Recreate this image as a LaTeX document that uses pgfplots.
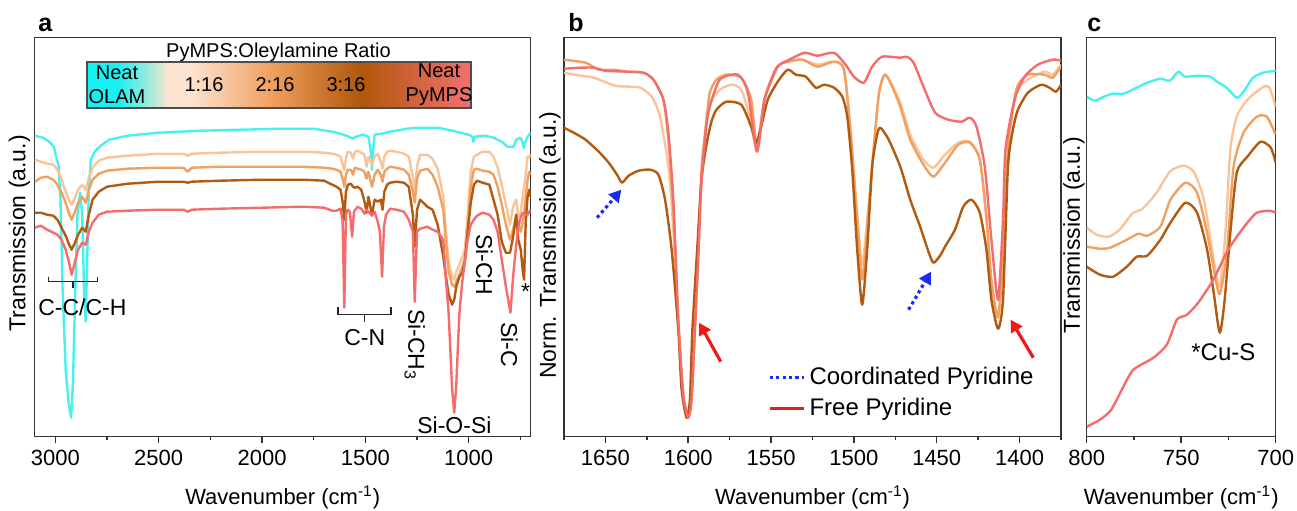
\documentclass[border=0pt]{standalone}
\usepackage{fontspec}
\setmainfont{Liberation Sans}
\usepackage{pgfplots}
\pgfplotsset{compat=1.18}
\usetikzlibrary{arrows.meta}

\definecolor{cOL}{RGB}{72,240,240}
\definecolor{cLP}{RGB}{250,196,152}
\definecolor{cO}{RGB}{240,160,96}
\definecolor{cB}{RGB}{178,90,16}
\definecolor{cR}{RGB}{244,108,108}
\definecolor{cbC}{RGB}{20,242,242}
\definecolor{cbP}{RGB}{252,228,208}
\definecolor{cbO}{RGB}{240,160,96}
\definecolor{cbB}{RGB}{176,87,10}
\definecolor{cbR}{RGB}{242,112,112}
\definecolor{cBlue}{RGB}{25,45,240}
\definecolor{cRed}{RGB}{240,25,25}

\tikzset{ann/.style={font=\fontsize{11.5}{13}\selectfont, inner sep=0pt}}
\pgfplotsset{
  panel/.style={
    scale only axis, anchor=south west, height=199.5pt, ymin=0, ymax=399,
    ytick=\empty, x dir=reverse,
    axis line style={line width=0.75pt, draw=black!80},
    tick align=outside, xtick pos=bottom, major tick length=3.3pt, minor tick length=1.7pt,
    tick style={line width=0.75pt, black!80},
    tick label style={font=\fontsize{11}{13}\selectfont},
    /pgf/number format/assume math mode=true, /pgf/number format/1000 sep={},
    xlabel={Wavenumber (cm\textsuperscript{-1})},
    every axis x label/.style={at={(axis description cs:0.5,0)}, anchor=base, yshift=-33.7pt, font=\fontsize{11}{13}\selectfont},
    clip mode=individual,
    every axis plot/.append style={line width=1.2pt, line join=round},
  },
}

\begin{document}
\begin{tikzpicture}
\path[use as bounding box] (0pt,0pt) rectangle (648.5pt,255pt);

% ---------------- panel a ----------------
\begin{axis}[panel, at={(17.35pt,36.65pt)}, width=248pt,
  xmin=700, xmax=3100, xtick={1000,1500,2000,2500,3000}, minor xtick={750,1250,1750,2250,2750},
  ylabel={Transmission (a.u.)},
  every axis y label/.style={at={(axis description cs:-0.0085,0.51)}, rotate=90, anchor=south, inner sep=0pt, font=\fontsize{11.5}{13}\selectfont}]
\addplot[cOL] coordinates {(3100,301)(3060,299)(3030,295)(3007,290)(2995,279)(2985,272)(2975,237)(2965,147)(2950,67)(2935,32)(2924,19)(2915,52)(2905,137)(2893,222)(2880,244)(2870,222)(2860,137)(2853,115)(2846,177)(2838,247)(2828,277)(2810,285)(2780,291)(2740,297)(2650,301)(2500,304)(2300,306)(2100,307)(1900,308)(1750,308)(1660,305)(1620,303)(1580,300)(1562,298)(1545,300)(1510,302)(1485,300)(1475,287)(1468,267)(1462,287)(1455,302)(1420,303)(1380,305)(1350,306)(1300,308)(1250,309)(1150,309)(1080,306)(1000,302)(982,300)(977,295)(970,300)(920,301)(880,299)(840,295)(812,290)(795,290)(783,290)(770,297)(750,299)(740,295)(733,289)(725,295)(715,300)(700,304)};
\addplot[cLP] coordinates {(3100,277)(3070,275)(3040,273)(3010,272)(2990,267)(2970,257)(2950,245)(2935,237)(2921,232)(2905,239)(2890,247)(2870,252)(2853,247)(2838,259)(2820,269)(2790,276)(2750,279)(2650,281)(2500,283)(2380,283)(2360,281)(2340,283)(2200,284)(2000,285)(1800,285)(1700,284)(1660,283)(1640,282)(1620,280)(1610,272)(1602,267)(1594,278)(1585,285)(1570,284)(1560,278)(1550,285)(1538,286)(1520,284)(1505,282)(1494,270)(1485,280)(1468,272)(1455,280)(1440,283)(1425,275)(1417,268)(1408,280)(1395,285)(1380,286)(1350,285)(1313,283)(1290,280)(1270,260)(1261,244)(1250,270)(1235,282)(1200,282)(1175,278)(1150,268)(1123,240)(1110,205)(1097,175)(1080,160)(1070,157)(1060,165)(1045,172)(1030,180)(1019,187)(1005,222)(990,265)(975,280)(960,282)(933,285)(900,285)(880,280)(860,269)(840,252)(820,232)(800,212)(785,230)(770,237)(760,220)(748,225)(738,240)(732,250)(724,262)(715,280)(707,279)(700,283)};
\addplot[cO] coordinates {(3100,255)(3070,259)(3040,260)(3010,257)(2990,252)(2970,244)(2950,234)(2935,224)(2921,217)(2905,225)(2890,234)(2870,240)(2853,234)(2838,247)(2820,257)(2790,263)(2750,266)(2650,268)(2500,269)(2380,269)(2360,265)(2340,269)(2200,270)(2000,270)(1800,270)(1700,269)(1660,268)(1640,267)(1620,265)(1610,258)(1602,250)(1594,262)(1585,267)(1570,267)(1560,262)(1550,269)(1538,268)(1520,267)(1505,265)(1494,258)(1485,265)(1468,250)(1455,262)(1440,267)(1425,262)(1417,255)(1408,265)(1395,268)(1380,270)(1350,269)(1313,267)(1290,262)(1270,245)(1261,234)(1250,258)(1235,266)(1200,268)(1175,262)(1150,250)(1123,227)(1110,195)(1097,165)(1080,152)(1070,150)(1060,155)(1045,162)(1030,170)(1019,177)(1005,207)(990,250)(975,267)(960,268)(933,266)(900,265)(880,262)(860,250)(840,232)(820,212)(800,197)(785,207)(770,222)(760,212)(748,205)(738,215)(732,222)(724,240)(715,257)(707,265)(700,262)};
\addplot[cB] coordinates {(3100,224)(3070,224)(3040,222)(3010,221)(2990,217)(2970,209)(2950,201)(2935,193)(2921,187)(2905,194)(2890,202)(2870,209)(2853,205)(2838,222)(2820,237)(2790,245)(2750,250)(2650,253)(2500,255)(2380,255)(2360,254)(2340,255)(2200,256)(2000,257)(1800,257)(1700,256)(1660,252)(1640,250)(1620,247)(1610,235)(1602,217)(1594,245)(1585,252)(1570,253)(1560,250)(1550,249)(1538,250)(1520,247)(1505,236)(1494,224)(1485,240)(1468,222)(1455,237)(1440,235)(1425,237)(1417,227)(1408,245)(1395,252)(1380,254)(1350,255)(1313,254)(1290,250)(1270,222)(1261,190)(1250,227)(1235,237)(1200,230)(1175,227)(1150,212)(1123,180)(1110,160)(1097,142)(1080,132)(1070,137)(1060,150)(1045,160)(1030,164)(1019,175)(1005,205)(990,234)(975,252)(960,256)(933,254)(900,252)(880,237)(860,222)(840,195)(820,184)(800,184)(785,200)(770,222)(760,197)(748,187)(738,165)(732,157)(724,215)(715,240)(707,247)(700,240)};
\addplot[cR] coordinates {(3100,209)(3070,211)(3040,207)(3010,204)(2990,202)(2970,197)(2950,187)(2935,175)(2921,162)(2905,175)(2890,187)(2870,194)(2853,192)(2838,205)(2820,214)(2790,222)(2750,225)(2650,226)(2500,227)(2380,227)(2360,225)(2340,227)(2200,228)(2000,229)(1800,230)(1700,229)(1660,226)(1640,226)(1620,228)(1610,215)(1602,129)(1594,222)(1585,227)(1575,225)(1564,200)(1555,225)(1538,230)(1520,228)(1505,223)(1494,227)(1485,225)(1468,221)(1455,225)(1440,215)(1430,205)(1419,160)(1410,210)(1400,222)(1380,228)(1350,227)(1313,225)(1290,217)(1270,205)(1261,135)(1250,205)(1235,208)(1200,210)(1175,207)(1150,205)(1123,197)(1110,157)(1097,124)(1080,47)(1070,24)(1060,52)(1045,124)(1030,157)(1019,174)(1005,197)(990,212)(975,217)(960,221)(933,224)(900,222)(880,217)(860,205)(840,177)(820,150)(798,124)(785,160)(770,192)(760,210)(748,220)(738,224)(732,223)(724,222)(715,222)(707,225)(700,227)};
\draw[line width=0.75pt, black!85] (axis cs:3034,160) -- (axis cs:3034,155) -- (axis cs:2797,155) -- (axis cs:2797,160);
\draw[line width=0.75pt, black!85] (axis cs:2915,155) -- (axis cs:2915,149);
\node[ann] at (axis cs:2869,129) {C-C/C-H};
\draw[line width=0.75pt, black!85] (axis cs:1633,130) -- (axis cs:1633,122) -- (axis cs:1377,122) -- (axis cs:1377,130);
\draw[line width=0.75pt, black!85] (axis cs:1503,122) -- (axis cs:1503,115);
\node[ann] at (axis cs:1503,99) {C-N};
\node[ann, rotate=-90] at (axis cs:1261,92) {Si-CH\textsubscript{3}};
\node[ann, rotate=-90] at (axis cs:924,172) {Si-CH};
\node[ann, rotate=-90] at (axis cs:803,92) {Si-C};
\node[ann] at (axis cs:1069,11) {Si-O-Si};
\node[ann] at (axis cs:725,145) {*};
\end{axis}

% colour bar (legend of panel a)
\fill[cbC] (43.5pt,201pt) rectangle (59pt,224pt);
\shade[left color=cbC, right color=cbP] (58.8pt,201pt) rectangle (84.2pt,224pt);
\fill[cbP] (84pt,201pt) rectangle (95.2pt,224pt);
\shade[left color=cbP, right color=cbO] (95pt,201pt) rectangle (135.7pt,224pt);
\shade[left color=cbO, right color=cbB] (135.5pt,201pt) rectangle (180.7pt,224pt);
\shade[left color=cbB, right color=cbR] (180.5pt,201pt) rectangle (235.5pt,224pt);
\draw[black!70, line width=0.6pt] (43.5pt,201pt) rectangle (235.5pt,224pt);
\node[anchor=base, inner sep=0pt, font=\fontsize{10}{12}\selectfont] at (139.25pt,226pt) {PyMPS:Oleylamine Ratio};
\node[align=center, inner sep=0pt, font=\fontsize{10}{12}\selectfont] at (58.5pt,212.5pt) {Neat\\OLAM};
\node[inner sep=0pt, font=\fontsize{10}{12}\selectfont] at (102pt,212.5pt) {1:16};
\node[inner sep=0pt, font=\fontsize{10}{12}\selectfont] at (137.5pt,212.5pt) {2:16};
\node[inner sep=0pt, font=\fontsize{10}{12}\selectfont] at (173pt,212.5pt) {3:16};
\node[align=center, inner sep=0pt, font=\fontsize{10}{12}\selectfont] at (219.5pt,212.5pt) {Neat\\PyMPS};

% ---------------- panel b ----------------
\begin{axis}[panel, at={(282pt,36.65pt)}, width=248.5pt,
  xmin=1375, xmax=1675, xtick={1400,1450,...,1650}, minor xtick={1375,1425,...,1675},
  ylabel={Norm. Transmission (a.u.)},
  every axis y label/.style={at={(axis description cs:-0.006,0.48)}, rotate=90, anchor=south, inner sep=0pt, font=\fontsize{11.5}{13}\selectfont},
  legend style={at={(axis description cs:0.41,0.035)}, anchor=south west, draw=none, fill=none, font=\fontsize{12}{14}\selectfont, row sep=1pt, inner sep=0pt},
  legend cell align=left]
\addlegendimage{cBlue, line width=1.6pt, dash pattern=on 1.6pt off 1.6pt}
\addlegendentry{Coordinated Pyridine}
\addlegendimage{cRed, line width=1.6pt}
\addlegendentry{Free Pyridine}
\addplot[cLP, smooth, tension=0.4, forget plot] coordinates {(1675,364)(1665,361)(1657,359)(1644,351)(1635,350)(1629,349)(1622,340)(1617,320)(1612,270)(1609,207)(1606,107)(1603,39)(1600,25)(1598,39)(1596,107)(1594,177)(1592,257)(1589,312)(1587,334)(1581,347)(1574,352)(1568,347)(1563,320)(1558.5,287)(1554,337)(1546,370)(1540,375)(1531,377)(1522,372)(1512,375)(1506,367)(1502,307)(1498,222)(1495,172)(1492,217)(1489,270)(1485,342)(1481.5,362)(1478,355)(1472,334)(1466,302)(1458,277)(1452,269)(1445,282)(1437,294)(1430,295)(1424,277)(1420,217)(1417,152)(1413,122)(1410,182)(1407,287)(1402,344)(1395,357)(1385,365)(1380,362)(1375,372)};
\addplot[cO, smooth, tension=0.4, forget plot] coordinates {(1675,377)(1662,374)(1654,367)(1645,367)(1637,365)(1627,364)(1621,357)(1615,337)(1612,297)(1609,227)(1606,117)(1603,42)(1600,22)(1598,37)(1596,107)(1594,187)(1592,267)(1589,317)(1587,344)(1583,357)(1577,362)(1568,359)(1562,337)(1558.5,290)(1554,337)(1546,370)(1540,375)(1531,377)(1522,370)(1512,375)(1506,367)(1502,304)(1498,217)(1495,157)(1492,207)(1489,270)(1485,342)(1481.5,362)(1478,354)(1472,330)(1466,297)(1458,272)(1452,260)(1445,274)(1437,292)(1430,294)(1424,277)(1420,220)(1417,157)(1413,119)(1410,177)(1407,287)(1402,347)(1395,362)(1385,362)(1380,359)(1375,370)};
\addplot[cB, smooth, tension=0.4, forget plot] coordinates {(1675,309)(1668,303)(1662,297)(1654,285)(1648,274)(1643,262)(1640,254)(1636,261)(1630,266)(1623,267)(1618,262)(1614,237)(1610,187)(1606,107)(1604,47)(1601,19)(1599,37)(1597.5,107)(1594.5,190)(1592,257)(1589,292)(1586,315)(1583,327)(1577,335)(1568,332)(1562,310)(1559,294)(1556,310)(1552,337)(1546,355)(1540,367)(1535,362)(1529,360)(1523,349)(1518,352)(1512,349)(1507,340)(1504,320)(1501,267)(1498,187)(1495,132)(1492,187)(1489,270)(1486,302)(1484,309)(1479,297)(1472,270)(1466,237)(1460,210)(1455,185)(1452,174)(1448,181)(1445,190)(1439,207)(1434,230)(1429,237)(1424,224)(1420,187)(1417,137)(1413,108)(1410,137)(1407,270)(1404,307)(1401,327)(1395,344)(1387,352)(1382,349)(1378,345)(1375,352)};
\addplot[cR, smooth, tension=0.4, forget plot] coordinates {(1675,368)(1665,369)(1657,369)(1650,366)(1637,365)(1627,364)(1621,357)(1615,337)(1612,304)(1609,237)(1606,117)(1603,42)(1600,19)(1598,37)(1596,107)(1594,177)(1592,257)(1589,312)(1587,330)(1581,357)(1570,362)(1564,344)(1558.5,285)(1554,337)(1548,365)(1545,372)(1539,377)(1533,382)(1529,384)(1522,381)(1512,384)(1505,372)(1500,360)(1494,354)(1489,370)(1483,380)(1472,379)(1468,380)(1464,374)(1458,350)(1451,324)(1443,317)(1435,315)(1430,319)(1426,310)(1421,270)(1417,197)(1413,137)(1410,217)(1408.5,287)(1403,337)(1397,360)(1389,372)(1380,377)(1375,376)};
\draw[cBlue, line width=1.6pt, dash pattern=on 1.6pt off 1.6pt, -{Triangle[length=6pt,width=6.5pt]}] (axis cs:1655,219) -- (axis cs:1640.4,247);
\draw[cBlue, line width=1.6pt, dash pattern=on 1.6pt off 1.6pt, -{Triangle[length=6pt,width=6.5pt]}] (axis cs:1467,127) -- (axis cs:1453.5,165);
\draw[cRed, line width=1.6pt, -{Triangle[length=6pt,width=6.5pt]}] (axis cs:1580.4,75) -- (axis cs:1593.4,114);
\draw[cRed, line width=1.6pt, -{Triangle[length=6pt,width=6.5pt]}] (axis cs:1391.7,79) -- (axis cs:1405.4,117);
\end{axis}

% ---------------- panel c ----------------
\begin{axis}[panel, at={(543.35pt,36.65pt)}, width=94.5pt,
  xmin=700, xmax=800, xtick={700,750,800}, minor xtick={725,775},
  ylabel={Transmission (a.u.)},
  every axis y label/.style={at={(axis description cs:-0.009,0.505)}, rotate=90, anchor=south, inner sep=0pt, font=\fontsize{11.5}{13}\selectfont}]
\addplot[cOL, smooth, tension=0.4] coordinates {(800,340)(795.6,336)(791,340)(786,343)(780.6,343)(773.5,349)(768,354)(761,358)(756,356)(751.5,365)(748,360)(741.8,361)(734.8,360)(731,355)(726,349)(720.6,339)(717,345)(712,359)(706.6,364)(700,366)};
\addplot[cLP, smooth, tension=0.4] coordinates {(800,209)(794.7,202)(788.5,200)(782.6,207)(775.5,224)(771,227)(763,244)(756,265)(749,271)(743.4,265)(738,237)(732.8,177)(729.6,150)(726.6,204)(724,287)(720.6,320)(715,337)(706.4,350)(703.3,349)(700,330)};
\addplot[cO, smooth, tension=0.4] coordinates {(800,190)(793,188)(787.6,189)(778.8,197)(772.6,203)(768,201)(761,210)(755.7,237)(747.8,254)(741.6,244)(736.3,204)(731,150)(729.3,144)(725.8,184)(722.3,270)(717,304)(710,320)(704.7,320)(700,302)};
\addplot[cB, smooth, tension=0.4] coordinates {(800,170)(793,162)(786,160)(778.8,170)(773.5,180)(768,181)(761,197)(755.7,214)(747.8,234)(741.6,224)(736.3,187)(732.8,144)(729.6,104)(727,137)(724,204)(720.6,264)(715,280)(708,295)(702.6,289)(700,274)};
\addplot[cR, smooth, tension=0.4] coordinates {(800,10)(793,17)(787,27)(780.6,50)(775.3,67)(764.7,79)(757.6,92)(752.3,117)(747,122)(741,134)(733,157)(726,184)(720.6,200)(715,214)(710,224)(703,226)(700,224)};
\node[ann, font=\fontsize{12}{14}\selectfont] at (axis cs:727.7,84) {*Cu-S};
\end{axis}

% panel letters
\node[anchor=base west, inner sep=0pt, font=\bfseries\fontsize{12.5}{14}\selectfont] at (19pt,239pt) {a};
\node[anchor=base west, inner sep=0pt, font=\bfseries\fontsize{12.5}{14}\selectfont] at (284pt,239pt) {b};
\node[anchor=base west, inner sep=0pt, font=\bfseries\fontsize{12.5}{14}\selectfont] at (543.5pt,239pt) {c};
\end{tikzpicture}
\end{document}
